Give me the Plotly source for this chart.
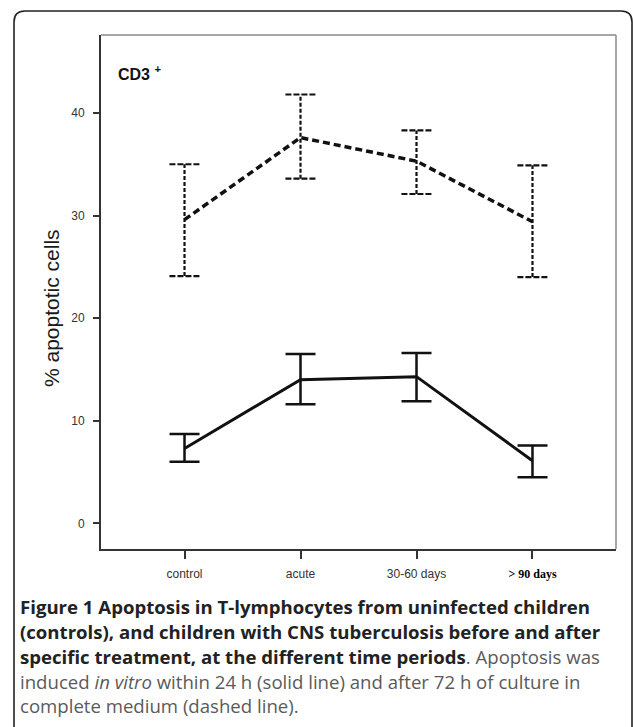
import plotly.graph_objects as go

# ---- data ----
categories = ["control", "acute", "30-60 days", "> 90 days"]
h24_mean = [7.3, 14.0, 14.3, 6.1]
h24_upper = [8.7, 16.5, 16.6, 7.6]
h24_lower = [6.0, 11.6, 11.9, 4.5]
h72_mean = [29.6, 37.6, 35.3, 29.4]
h72_upper = [35.0, 41.8, 38.3, 34.9]
h72_lower = [24.1, 33.6, 32.1, 24.0]
y_ticks = [0, 10, 20, 30, 40]

W, H = 633, 727
L, R, T, B = 101, 616, 35, 549  # plot area in pixels

def px(xp):
    return (xp - L) / (R - L)

def py(yp):
    return 1 - (yp - T) / (B - T)

xs = list(range(len(categories)))
ticktext = categories[:3] + ['<span style="font-family:Liberation Serif;color:#000"><b>&gt; 90 days</b></span>']

fig = go.Figure()

# dashed series (72 h) stems and caps
stem_x, stem_y, cap_x, cap_y = [], [], [], []
cw = 0.13
for i, (lo, hi) in enumerate(zip(h72_lower, h72_upper)):
    stem_x += [i, i, None]
    stem_y += [lo, hi, None]
    cap_x += [i - cw, i + cw, None, i - cw, i + cw, None]
    cap_y += [lo, lo, None, hi, hi, None]
fig.add_trace(go.Scatter(x=stem_x, y=stem_y, mode="lines",
                         line=dict(color="#111", width=2.2, dash="4px,2px"),
                         hoverinfo="skip", showlegend=False))
fig.add_trace(go.Scatter(x=cap_x, y=cap_y, mode="lines",
                         line=dict(color="#111", width=2.2, dash="6px,2px"),
                         hoverinfo="skip", showlegend=False))
fig.add_trace(go.Scatter(x=xs, y=h72_mean, mode="lines",
                         line=dict(color="#111", width=3.5, dash="7px,4px"),
                         name="72 h", showlegend=False))

# solid series (24 h)
fig.add_trace(go.Scatter(
    x=xs, y=h24_mean, mode="lines",
    line=dict(color="#111", width=3),
    error_y=dict(type="data", symmetric=False,
                 array=[u - m for u, m in zip(h24_upper, h24_mean)],
                 arrayminus=[m - l for m, l in zip(h24_mean, h24_lower)],
                 width=15, thickness=2.5, color="#111"),
    name="24 h", showlegend=False))

shapes = [
    dict(type="line", xref="paper", yref="paper", x0=0, x1=1, y0=1, y1=1,
         line=dict(color="#8a8a8a", width=1.5)),
    dict(type="line", xref="paper", yref="paper", x0=1, x1=1, y0=0, y1=1,
         line=dict(color="#8a8a8a", width=1.5)),
]
# card border with rounded corners
x0c, x1c, y0c, ybot, r = 14, 632, 11, 740, 11
path = (f"M {px(x0c)},{py(ybot)} L {px(x0c)},{py(y0c + r)} "
        f"Q {px(x0c)},{py(y0c)} {px(x0c + r)},{py(y0c)} "
        f"L {px(x1c - r)},{py(y0c)} Q {px(x1c)},{py(y0c)} {px(x1c)},{py(y0c + r)} "
        f"L {px(x1c)},{py(ybot)}")
shapes.append(dict(type="path", xref="paper", yref="paper", path=path,
                   line=dict(color="#222", width=1.6)))

annotations = [
    dict(text="<b>CD3 <sup>+</sup></b>", x=px(116), y=py(73), xref="paper", yref="paper",
         xanchor="left", yanchor="middle", showarrow=False,
         font=dict(family="Liberation Sans", size=16, color="#111")),
    dict(text="% apoptotic cells", x=px(51), y=py(308), xref="paper", yref="paper",
         xanchor="center", yanchor="middle", textangle=-90, showarrow=False,
         font=dict(family="Liberation Sans", size=21, color="#1a1a1a")),
]

cap_font = dict(family="Open Sans", size=18.6, color="#5a5a5a")
bold_c = "#222"
caption_lines = [
    f'<b><span style="color:{bold_c}">Figure 1 Apoptosis in T-lymphocytes from uninfected children</span></b>',
    f'<b><span style="color:{bold_c}">(controls), and children with CNS tuberculosis before and after</span></b>',
    f'<b><span style="color:{bold_c}">specific treatment, at the different time periods</span></b>. Apoptosis was',
    'induced <i>in vitro</i> within 24 h (solid line) and after 72 h of culture in',
    'complete medium (dashed line).',
]
line_y = [606, 631, 656, 681, 705]
for txt, yy in zip(caption_lines, line_y):
    annotations.append(dict(text=txt, x=px(18), y=py(yy), xref="paper", yref="paper",
                            xanchor="left", yanchor="middle", showarrow=False,
                            font=cap_font))

fig.update_layout(
    width=W, height=H,
    margin=dict(l=L, r=W - R, t=T, b=H - B),
    paper_bgcolor="white", plot_bgcolor="white",
    showlegend=False,
    shapes=shapes, annotations=annotations,
    xaxis=dict(range=[-0.72, 3.72], tickmode="array", tickvals=xs, ticktext=ticktext,
               showgrid=False, zeroline=False, showline=True, linecolor="#333", linewidth=2,
               ticks="outside", ticklen=8, tickwidth=1.5, tickcolor="#333",
               ticklabelstandoff=5,
               tickfont=dict(family="Liberation Sans", size=12, color="#333")),
    yaxis=dict(range=[-2.5, 47.6], tickmode="array", tickvals=y_ticks,
               showgrid=False, zeroline=False, showline=True, linecolor="#333", linewidth=2,
               ticks="outside", ticklen=6, tickwidth=1.5, tickcolor="#333",
               ticklabelstandoff=6,
               tickfont=dict(family="Liberation Sans", size=12, color="#333")),
)

fig.write_html("out.html")
